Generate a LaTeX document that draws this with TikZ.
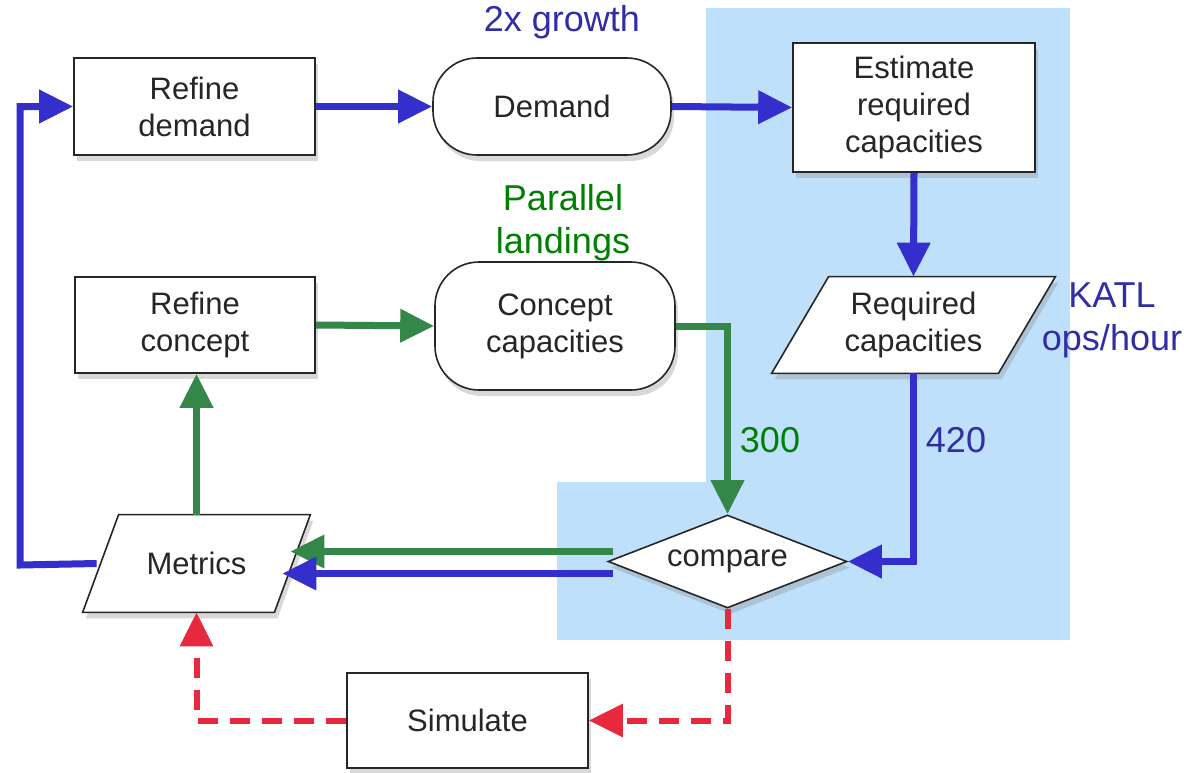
\documentclass[tikz,border=0pt]{standalone}
\usepackage{fontspec}
\setmainfont{Liberation Sans}
\usetikzlibrary{arrows.meta,shapes.geometric,shadows}
\pgfdeclarelayer{back}
\pgfdeclarelayer{shapes}
\pgfsetlayers{back,shapes,main}
\definecolor{bgblue}{RGB}{190,224,250}
\definecolor{arrblue}{RGB}{52,46,205}
\definecolor{txtblue}{RGB}{48,46,165}
\definecolor{arrgreen}{RGB}{52,135,72}
\definecolor{txtgreen}{RGB}{0,128,0}
\definecolor{arrred}{RGB}{232,40,60}
\newcommand\nfont{\fontsize{15.5}{18.5}\selectfont}
\newcommand\afont{\fontsize{18}{21.5}\selectfont}
\begin{document}
\begin{tikzpicture}[x=0.5pt,y=-0.5pt,
  outline/.style={draw=black!85, line width=0.8pt, fill=white,
    drop shadow={opacity=0.3,shadow xshift=1.5pt,shadow yshift=-3pt}},
  box/.style={outline, align=center, font=\nfont, text=black!85, inner sep=0pt},
  stadium/.style={box, rounded corners=22pt},
  paratext/.style={align=center, font=\nfont, text=black!85, inner sep=0pt},
  decide/.style={box, diamond},
  flow/.style={line width=3.5pt, -{Triangle[length=17pt,width=16pt]}},
  blueflow/.style={flow, draw=arrblue, arrblue},
  greenflow/.style={flow, draw=arrgreen, arrgreen},
  redflow/.style={flow, line width=3pt, draw=arrred, arrred, dash pattern=on 10pt off 6pt},
  bluenote/.style={font=\afont, text=txtblue, align=center},
  greennote/.style={font=\afont, text=txtgreen, align=center}]
\useasboundingbox (0,0) rectangle (1184,772);
\begin{pgfonlayer}{back}
\fill[white] (0,0) rectangle (1184,772);
\fill[bgblue] (706,8) rectangle (1070,640);
\fill[bgblue] (557,482) rectangle (707,640);
\end{pgfonlayer}
% nodes
\node[box, minimum width=120.5pt, minimum height=48.5pt] (rd) at (194.5,106.5) {Refine\\demand};
\node[stadium, minimum width=119pt, minimum height=48.5pt] (dem) at (552,106.5) {Demand};
\node[box, minimum width=121pt, minimum height=64.5pt] (est) at (914,107.5) {Estimate\\required\\capacities};
\node[paratext, minimum width=113pt, minimum height=48pt] (req) at (913.5,325) {Required\\capacities};
\node[box, minimum width=120pt, minimum height=48pt] (rc) at (195,325) {Refine\\concept};
\node[stadium, minimum width=120pt, minimum height=64pt] (cc) at (555,326) {Concept\\capacities};
\node[decide, aspect=2.57, minimum width=119.5pt, minimum height=46.5pt] (cmp) at (727.5,561.5) {compare};
\node[paratext, minimum width=95.5pt, minimum height=48.5pt] (met) at (196.5,563.5) {Metrics};
\node[box, minimum width=120.5pt, minimum height=47.5pt] (sim) at (467.5,720.5) {Simulate};
% parallelogram outlines
\begin{pgfonlayer}{shapes}
\draw[outline] ([xshift=-14.25pt]req.south west) -- ([xshift=14.25pt]req.north west)
  -- ([xshift=14.25pt]req.north east) -- ([xshift=-14.25pt]req.south east) -- cycle;
\draw[outline] ([xshift=-9pt]met.south west) -- ([xshift=9pt]met.north west)
  -- ([xshift=9pt]met.north east) -- ([xshift=-9pt]met.south east) -- cycle;
\end{pgfonlayer}
% notes
\node[bluenote] (n1) at (562,22) {2x growth};
\node[greennote] (n2) at (563,223) {Parallel\\landings};
\node[bluenote] (n3) at (1112,320) {KATL\\ops/hour};
\node[greennote] (n4) at (770,440) {300};
\node[bluenote] (n5) at (956,440) {420};
\coordinate (lft) at (20,565);
% connectors
\draw[blueflow] (rd.east) -- (dem.west);
\draw[blueflow] (dem.east) -- (est.west);
\draw[blueflow] (est.south) -- (req.north);
\draw[blueflow] (req.south) |- (cmp.east);
\draw[greenflow] (rc.east) -- (cc.west);
\draw[greenflow] (cc.east) -| (cmp.north);
\draw[greenflow] ([xshift=3pt,yshift=5pt]cmp.west) -- ([xshift=-1pt,yshift=5pt]cmp.west -| met.east);
\draw[blueflow] ([xshift=3pt,yshift=-6pt]cmp.west) -- ([xshift=-5pt,yshift=-6pt]cmp.west -| met.east);
\draw[greenflow] (met.north) -- (met.north |- rc.south);
\draw[blueflow] ([xshift=-2pt]met.west) -- (lft) |- (rd.west);
\draw[redflow] (cmp.south) |- (sim.east);
\draw[redflow] (sim.west) -| (met.south);
\end{tikzpicture}
\end{document}
